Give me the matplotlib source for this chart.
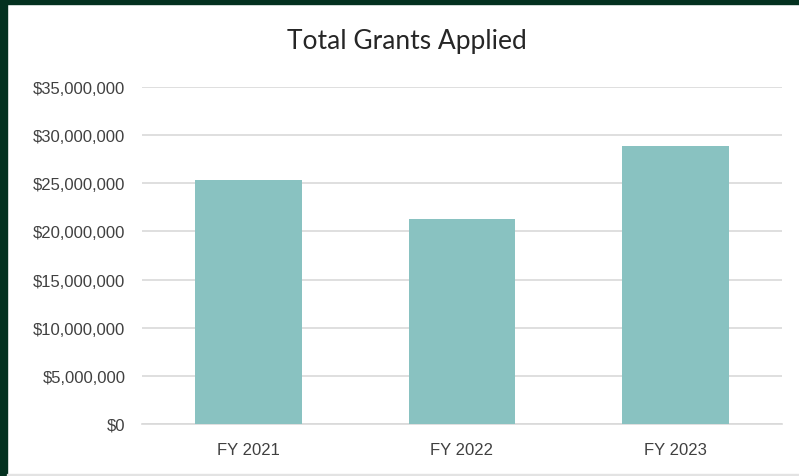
import matplotlib
matplotlib.use('Agg')
import matplotlib.pyplot as plt
from matplotlib.patches import Rectangle
from matplotlib.ticker import FuncFormatter, MultipleLocator

# Chart data
years = ['FY 2021', 'FY 2022', 'FY 2023']
grants = [25300000, 21300000, 28900000]

W, H = 799, 477
fig = plt.figure(figsize=(W / 100, H / 100), dpi=100)
fig.patch.set_facecolor('white')

# dark green frame on the left and top edge
green = '#03311f'
fig.patches.append(Rectangle((0, 0), 7 / W, 1, transform=fig.transFigure, color=green, zorder=0))
fig.patches.append(Rectangle((0, 1 - 5 / H), 1, 5 / H, transform=fig.transFigure, color=green, zorder=0))
# thin gray line at the bottom of the white area
fig.patches.append(Rectangle((7 / W, 0), 1, 2 / H, transform=fig.transFigure, color='#e3e3e3', zorder=0))

ax = fig.add_axes([142 / W, 52 / H, 640 / W, 337 / H])
ax.bar(range(len(years)), grants, width=0.5, color='#89c2c1', zorder=3)

ax.set_xlim(-0.5, 2.5)
ax.set_ylim(0, 35000000)
ax.yaxis.set_major_locator(MultipleLocator(5000000))
ax.yaxis.set_major_formatter(FuncFormatter(lambda v, p: f'${v:,.0f}'))
ax.set_xticks(range(len(years)))
ax.set_xticklabels(years)

ax.grid(axis='y', color='#d9d9d9', linewidth=1.2, zorder=0)
for s in ['top', 'right', 'left']:
    ax.spines[s].set_visible(False)
ax.spines['bottom'].set_color('#d9d9d9')
ax.spines['bottom'].set_linewidth(1.2)
ax.tick_params(axis='both', length=0, labelsize=12, labelcolor='#404040')
ax.tick_params(axis='y', pad=12)
ax.tick_params(axis='x', pad=13)
for lbl in ax.get_xticklabels() + ax.get_yticklabels():
    lbl.set_family('Liberation Sans')

fig.text(407 / W, 1 - 42 / H, 'Total Grants Applied', ha='center', va='center',
         fontsize=19, color='#262626', family='Lato')

fig.savefig('out.png', dpi=100)
